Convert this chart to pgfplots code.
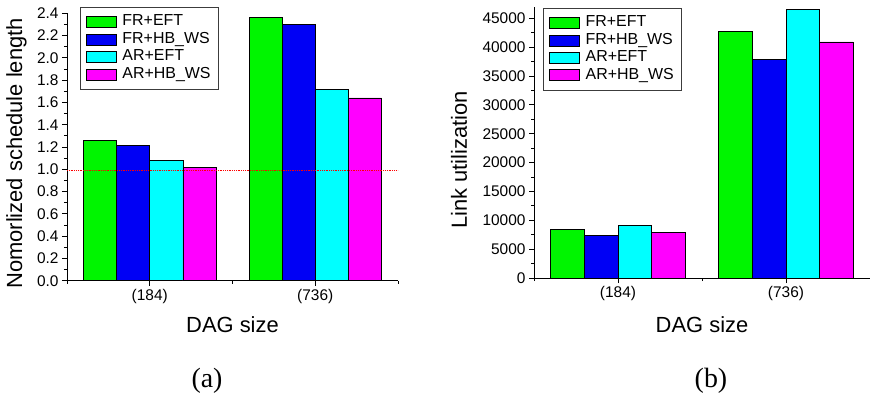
\documentclass[border=0pt]{standalone}
\usepackage{pgfplots}
\pgfplotsset{compat=1.18}
\usepackage{pgfplotstable}
\usepackage{fontspec}
\setmainfont{Liberation Sans}
\newfontfamily\capfont{Liberation Serif}

\definecolor{cgreen}{RGB}{0,245,0}
\definecolor{cblue}{RGB}{0,0,245}
\definecolor{ccyan}{RGB}{0,255,255}
\definecolor{cmag}{RGB}{255,0,255}
\definecolor{legframe}{RGB}{60,60,60}

\pgfplotstableread{
x a b c d
0 1.260 1.215 1.080 1.014
1 2.364 2.301 1.716 1.641
}\tabA

\pgfplotstableread{
x a b c d
0 8365 7442 9173 7846
1 42692 37904 46558 40904
}\tabB

\pgfplotsset{
  common/.style={
    scale only axis,
    xmin=-0.5, xmax=1.5, ymin=0,
    axis x line*=bottom, axis y line*=left,
    axis line style={line width=0.8bp},
    xtick={0,1}, xticklabels={(184),(736)},
    minor xtick={-0.5,0.5,1.5},
    minor y tick num=1,
    tick align=outside,
    major tick length=5bp, minor tick length=3bp,
    tick style={line width=0.8bp, black},
    ybar, bar width=0.2,
    tick label style={font=\fontsize{15.5}{18}\selectfont},
    label style={font=\fontsize{22}{26}\selectfont},
    /pgf/number format/assume math mode=true,
    scaled y ticks=false,
    legend cell align=left,
    legend style={font=\fontsize{16}{18}\selectfont, draw=legframe, line width=0.8bp,
      inner xsep=6bp, inner ysep=6bp, row sep=0bp,
      nodes={inner sep=1.5bp, text height=11bp, text depth=3.4bp}},
    legend image code/.code={\draw[##1, draw=black, line width=0.6bp] (0bp,-5.5bp) rectangle (30bp,5.5bp); \path (34bp,0bp);},
  },
  barA/.style={fill=cgreen, draw=black, line width=0.7bp, bar shift=-0.3},
  barB/.style={fill=cblue, draw=black, line width=0.7bp, bar shift=-0.1},
  barC/.style={fill=ccyan, draw=black, line width=0.7bp, bar shift=0.1},
  barD/.style={fill=cmag, draw=black, line width=0.7bp, bar shift=0.3},
}

\begin{document}
\begin{tikzpicture}
\path[use as bounding box] (0,0) rectangle (870bp,-395bp);

\begin{axis}[common,
  at={(67bp,-280.7bp)}, anchor=south west,
  width=331bp, height=267.4bp,
  ymax=2.4,
  ytick={0,0.2,0.4,0.6,0.8,1.0,1.2,1.4,1.6,1.8,2.0,2.2,2.4},
  yticklabel style={/pgf/number format/.cd, fixed, fixed zerofill, precision=1},
  ylabel={Nomorlized schedule length},
  ylabel style={at={(axis description cs:-0.1526,0.476)}, anchor=center},
  xlabel={DAG size},
  xlabel style={at={(axis description cs:0.5,-0.166)}, anchor=center},
  legend style={at={(axis description cs:0.039,1.0235)}, anchor=north west},
]
\addplot[barA] table[x=x,y=a]{\tabA};
\addplot[barB] table[x=x,y=b]{\tabA};
\addplot[barC] table[x=x,y=c]{\tabA};
\addplot[barD] table[x=x,y=d]{\tabA};
\addplot[sharp plot, red, densely dotted, line width=0.8bp, forget plot] coordinates {(-0.5,0.99) (1.51,0.99)};
\legend{FR+EFT, FR+HB\_WS, AR+EFT, AR+HB\_WS}
\end{axis}

\begin{axis}[common,
  at={(534bp,-278bp)}, anchor=south west,
  width=336bp, height=271.2bp,
  ymax=47000,
  ytick={0,5000,10000,15000,20000,25000,30000,35000,40000,45000},
  yticklabel style={/pgf/number format/.cd, fixed, 1000 sep={}},
  ylabel={Link utilization},
  ylabel style={at={(axis description cs:-0.223,0.435)}, anchor=center},
  xlabel={DAG size},
  xlabel style={at={(axis description cs:0.5,-0.173)}, anchor=center},
  legend style={at={(axis description cs:0.027,0.9956)}, anchor=north west},
]
\addplot[barA] table[x=x,y=a]{\tabB};
\addplot[barB] table[x=x,y=b]{\tabB};
\addplot[barC] table[x=x,y=c]{\tabB};
\addplot[barD] table[x=x,y=d]{\tabB};
\legend{FR+EFT, FR+HB\_WS, AR+EFT, AR+HB\_WS}
\end{axis}

\node[font=\capfont\fontsize{28}{32}\selectfont] at (207bp,-381bp) {(a)};
\node[font=\capfont\fontsize{28}{32}\selectfont] at (711bp,-381bp) {(b)};
\end{tikzpicture}
\end{document}
